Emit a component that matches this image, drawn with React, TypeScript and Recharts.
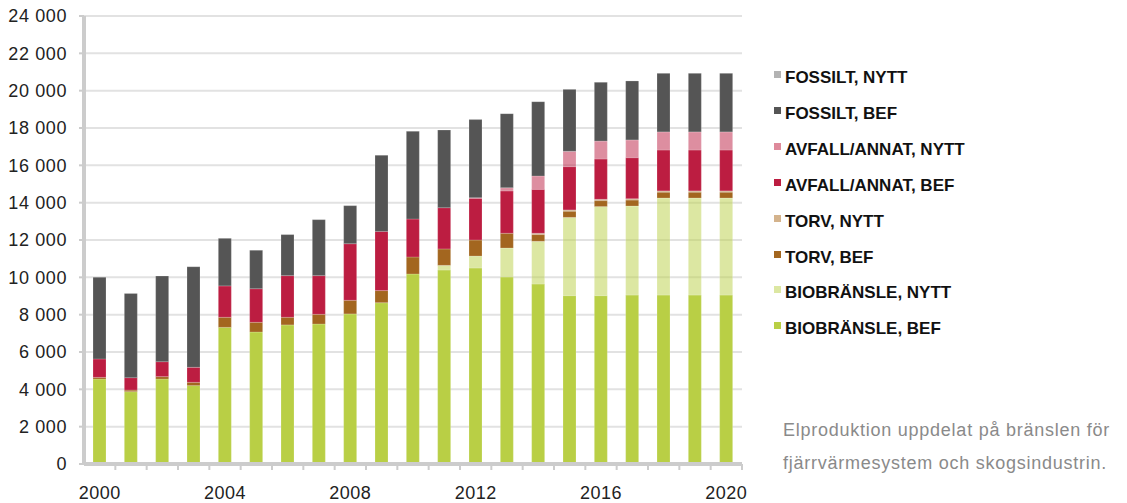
import React from 'react';
import { BarChart, Bar, XAxis, YAxis, CartesianGrid } from 'recharts';

const years = ['2000','2001','2002','2003','2004','2005','2006','2007','2008','2009','2010','2011','2012','2013','2014','2015','2016','2017','2018','2019','2020'];
const bioBef = [4550,3875,4550,4200,7320,7070,7450,7500,8040,8640,10180,10390,10500,10020,9640,9020,9020,9050,9050,9050,9050];
const bioNytt = [0,0,0,0,0,0,0,0,0,0,0,250,640,1550,2290,4190,4770,4770,5200,5200,5200];
const torvBef = [90,85,130,175,540,520,410,520,730,650,910,880,860,790,360,330,320,320,310,310,310];
const torvNytt = [0,0,0,0,0,0,0,0,0,0,0,0,0,0,70,70,70,70,70,70,70];
const avfallBef = [990,665,800,805,1680,1800,2230,2070,3030,3170,2035,2210,2230,2270,2350,2320,2160,2200,2190,2190,2190];
const avfallNytt = [0,0,0,0,0,0,0,0,0,0,0,0,40,170,720,820,960,950,970,970,970];
const fossilBef = [4370,4515,4590,5390,2550,2060,2200,3000,2040,4080,4695,4160,4180,3970,3980,3320,3150,3160,3140,3140,3140];
const fossilNytt = [0,0,0,0,0,0,0,0,0,0,0,0,0,0,0,0,0,0,0,0,0];
const yTicks = [0,2000,4000,6000,8000,10000,12000,14000,16000,18000,20000,22000,24000];

const series = [
  { key: 'bioBef', name: 'BIOBRÄNSLE, BEF', values: bioBef, fill: '#b9cf45', opacity: 1, swatch: '#b9cf45' },
  { key: 'bioNytt', name: 'BIOBRÄNSLE, NYTT', values: bioNytt, fill: '#b9cf45', opacity: 0.5, swatch: '#dce7a2' },
  { key: 'torvBef', name: 'TORV, BEF', values: torvBef, fill: '#a3661f', opacity: 1, swatch: '#a3661f' },
  { key: 'torvNytt', name: 'TORV, NYTT', values: torvNytt, fill: '#a3661f', opacity: 0.5, swatch: '#d4b38c' },
  { key: 'avfallBef', name: 'AVFALL/ANNAT, BEF', values: avfallBef, fill: '#bc1d41', opacity: 1, swatch: '#bc1d41' },
  { key: 'avfallNytt', name: 'AVFALL/ANNAT, NYTT', values: avfallNytt, fill: '#bc1d41', opacity: 0.5, swatch: '#de8a9b' },
  { key: 'fossilBef', name: 'FOSSILT, BEF', values: fossilBef, fill: '#555555', opacity: 1, swatch: '#555555' },
  { key: 'fossilNytt', name: 'FOSSILT, NYTT', values: fossilNytt, fill: '#b3b3b3', opacity: 1, swatch: '#b3b3b3' },
];

const data = years.map((y, i) => {
  const row: Record<string, number | string> = { year: y };
  series.forEach((s) => { row[s.key] = s.values[i]; });
  return row;
});

const W = 1127;
const H = 503;
const PLOT_LEFT = 84;
const PLOT_RIGHT = 742;
const BAND = (PLOT_RIGHT - PLOT_LEFT) / years.length;
const FONT = '"Liberation Sans", Arial, sans-serif';

const fmt = (v: number) => (v === 0 ? '0' : String(v).replace(/\B(?=(\d{3})+(?!\d))/g, ' '));

const XTick = (props: any) => {
  const { x, y, payload, index } = props;
  return (
    <g>
      <line x1={x + BAND / 2} x2={x + BAND / 2} y1={y} y2={y + 6} stroke="#cccccc" strokeWidth={2} />
      {index % 4 === 0 && (
        <text x={x} y={y + 35} textAnchor="middle" fill="#222" fontSize={18} fontFamily={FONT} style={{ letterSpacing: 0.5 }}>
          {payload.value}
        </text>
      )}
    </g>
  );
};

export default function App() {
  const legendItems = [...series].reverse();
  return (
    <div style={{ position: 'absolute', left: 0, top: 0, width: W, height: H, background: '#fff', fontFamily: FONT }}>
      <BarChart
        width={W}
        height={H}
        data={data}
        margin={{ top: 16, right: W - PLOT_RIGHT, left: 8, bottom: 9 }}
        barSize={13}
      >
        <CartesianGrid vertical={false} stroke="#e2e2e2" strokeWidth={2} />
        <XAxis
          dataKey="year"
          interval={0}
          height={30}
          tickSize={0}
          tickMargin={0}
          tickLine={false}
          tick={<XTick />}
          axisLine={{ stroke: '#cccccc', strokeWidth: 4 }}
        />
        <YAxis
          width={76}
          domain={[0, 24000]}
          ticks={yTicks}
          tickFormatter={fmt}
          tickSize={5}
          tickMargin={12}
          tickLine={{ stroke: '#cccccc', strokeWidth: 2 }}
          axisLine={{ stroke: '#cccccc', strokeWidth: 4 }}
          tick={{ fill: '#222', fontSize: 18, fontFamily: FONT, style: { letterSpacing: 0.6 } }}
        />
        {series.map((s) => (
          <Bar
            key={s.key}
            dataKey={s.key}
            name={s.name}
            stackId="a"
            fill={s.fill}
            fillOpacity={s.opacity}
            stroke="#ffffff"
            strokeOpacity={0.25}
            strokeWidth={0.75}
            isAnimationActive={false}
          />
        ))}
      </BarChart>
      {legendItems.map((s, i) => {
        const cy = 78 + i * 35.9;
        return (
          <div key={s.key} style={{ position: 'absolute', left: 774, top: cy - 10, height: 20, display: 'flex', alignItems: 'center' }}>
            <div style={{ position: 'absolute', left: 0, top: 3, width: 7, height: 7, background: s.swatch }} />
            <span style={{ marginLeft: 11, fontSize: 17, fontWeight: 700, color: '#111', lineHeight: '20px', whiteSpace: 'nowrap' }}>
              {s.name}
            </span>
          </div>
        );
      })}
      <div style={{ position: 'absolute', left: 783, top: 414, fontSize: 18, lineHeight: '33px', color: '#8a8a8a', whiteSpace: 'nowrap', letterSpacing: 0.75 }}>
        <div>Elproduktion uppdelat på bränslen för</div>
        <div>fjärrvärmesystem och skogsindustrin.</div>
      </div>
    </div>
  );
}
